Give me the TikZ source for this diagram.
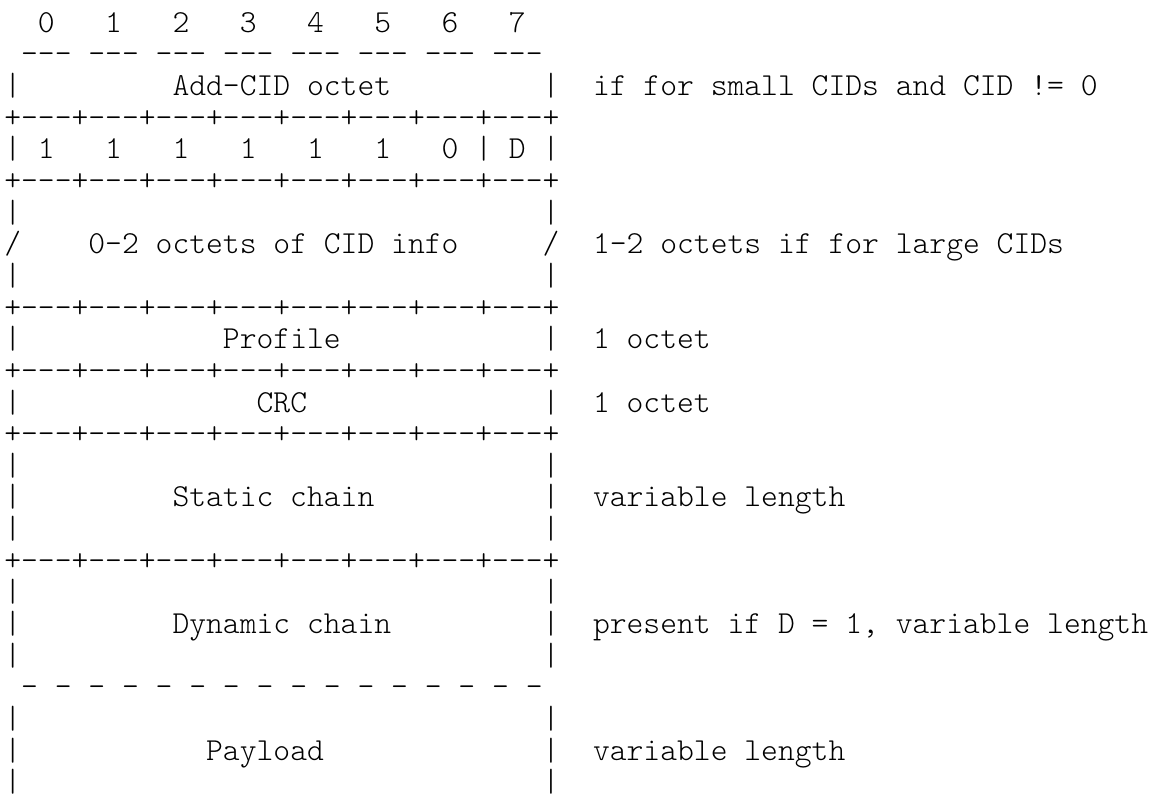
\documentclass[tikz,border=0pt]{standalone}
\usepackage{fontspec}
\setmonofont{lmmonolt10-regular}[Extension=.otf]
\newcommand\sps[1]{\foreach\bi in {1,...,#1}{~}}
\begin{document}
\begin{tikzpicture}[x=0.5pt,y=-0.5pt,
  row/.style={anchor=base west,inner sep=0pt,outer sep=0pt,text=black,
    font=\ttfamily\fontsize{16.02}{18}\selectfont}]
\useasboundingbox[fill=white] (0,0) rectangle (1155,811);
\node[row] (l1)  at (4.3,32.2)   {\sps{2}0\sps{3}1\sps{3}2\sps{3}3\sps{3}4\sps{3}5\sps{3}6\sps{3}7};
\node[row] (l2)  at (4.3,63.85)  {~---~---~---~---~---~---~---~---};
\node[row] (l3)  at (4.3,95.5)   {|\sps{9}Add-CID~octet\sps{9}|\sps{2}if~for~small~CIDs~and~CID~!=~0};
\node[row] (l4)  at (4.3,127.15) {+---+---+---+---+---+---+---+---+};
\node[row] (l5)  at (4.3,158.8)  {|~1\sps{3}1\sps{3}1\sps{3}1\sps{3}1\sps{3}1\sps{3}0~|~D~|};
\node[row] (l6)  at (4.3,190.45) {+---+---+---+---+---+---+---+---+};
\node[row] (l7)  at (4.3,222.1)  {|\sps{31}|};
\node[row] (l8)  at (4.3,253.75) {/\sps{4}0-2~octets~of~CID~info\sps{5}/\sps{2}1-2~octets~if~for~large~CIDs};
\node[row] (l9)  at (4.3,285.4)  {|\sps{31}|};
\node[row] (l10) at (4.3,317.05) {+---+---+---+---+---+---+---+---+};
\node[row] (l11) at (4.3,348.7)  {|\sps{12}Profile\sps{12}|\sps{2}1~octet};
\node[row] (l12) at (4.3,380.35) {+---+---+---+---+---+---+---+---+};
\node[row] (l13) at (4.3,412.0)  {|\sps{14}CRC\sps{14}|\sps{2}1~octet};
\node[row] (l14) at (4.3,443.65) {+---+---+---+---+---+---+---+---+};
\node[row] (l15) at (4.3,475.3)  {|\sps{31}|};
\node[row] (l16) at (4.3,506.95) {|\sps{9}Static~chain\sps{10}|\sps{2}variable~length};
\node[row] (l17) at (4.3,538.6)  {|\sps{31}|};
\node[row] (l18) at (4.3,570.25) {+---+---+---+---+---+---+---+---+};
\node[row] (l19) at (4.3,601.9)  {|\sps{31}|};
\node[row] (l20) at (4.3,633.55) {|\sps{9}Dynamic~chain\sps{9}|\sps{2}present~if~D~=~1,~variable~length};
\node[row] (l21) at (4.3,665.2)  {|\sps{31}|};
\node[row] (l22) at (4.3,696.85) {~-~-~-~-~-~-~-~-~-~-~-~-~-~-~-~-};
\node[row] (l23) at (4.3,728.5)  {|\sps{31}|};
\node[row] (l24) at (4.3,760.15) {|\sps{11}Payload\sps{13}|\sps{2}variable~length};
\node[row] (l25) at (4.3,791.8)  {|\sps{31}|};
\end{tikzpicture}
\end{document}
